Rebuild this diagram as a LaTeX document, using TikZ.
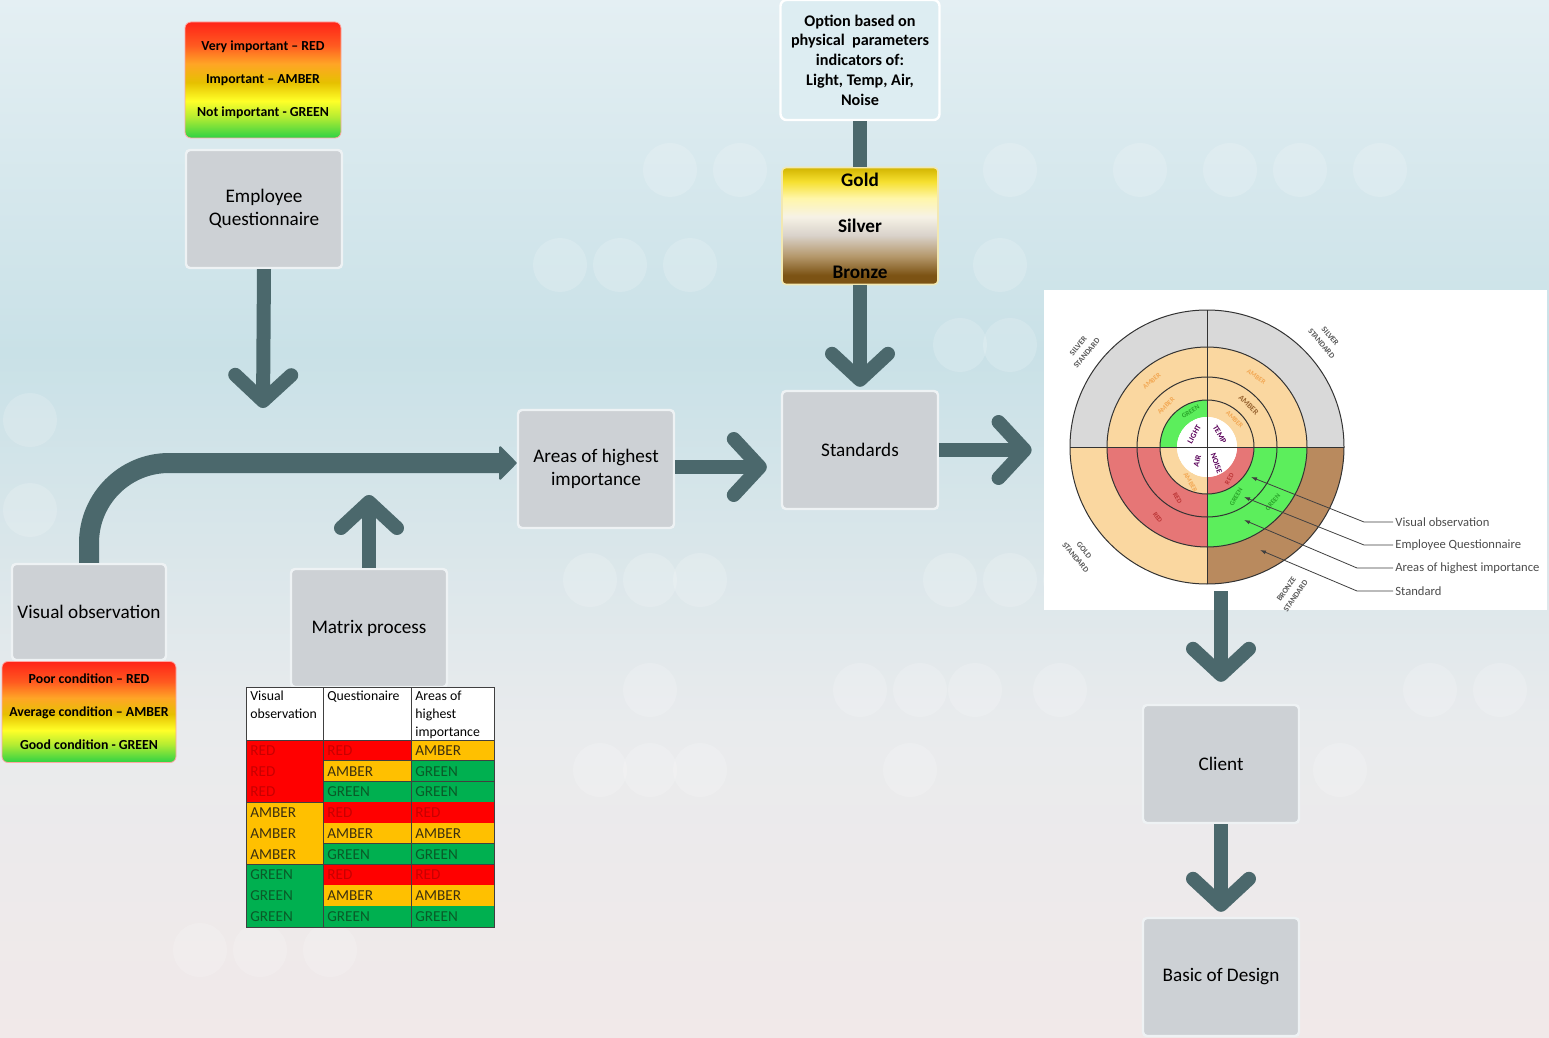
\documentclass[tikz,border=0pt]{standalone}
\usepackage{fontspec}
\setmainfont{Carlito}
\usetikzlibrary{arrows.meta,calc}

\definecolor{arrowcol}{HTML}{4B686C}
\definecolor{boxgray}{HTML}{CDD1D5}
\definecolor{boxedge}{HTML}{EEF2F4}
\definecolor{optfill}{HTML}{DDEDF2}
\definecolor{bgtop}{HTML}{E4EFF3}
\definecolor{bgmid}{HTML}{C9E1E7}
\definecolor{bglow}{HTML}{E9EBED}
\definecolor{bgbot}{HTML}{F1E9E9}
% legend gradient
\definecolor{lgR}{HTML}{FF2418}
\definecolor{lgOR}{HTML}{FF5A20}
\definecolor{lgOr}{HTML}{FFA526}
\definecolor{lgAm}{HTML}{E6C000}
\definecolor{lgY}{HTML}{FFFF28}
\definecolor{lgYG}{HTML}{B4EC32}
\definecolor{lgG}{HTML}{2ED245}
% medal gradient
\definecolor{mdG}{HTML}{D2B400}
\definecolor{mdY}{HTML}{F6E030}
\definecolor{mdP}{HTML}{FFF6A8}
\definecolor{mdW}{HTML}{F6F2E6}
\definecolor{mdS}{HTML}{D9D2CA}
\definecolor{mdT}{HTML}{B4976A}
\definecolor{mdB}{HTML}{7C5314}
% table
\definecolor{cellRED}{HTML}{FF0000}
\definecolor{cellAMBER}{HTML}{FFC000}
\definecolor{cellGREEN}{HTML}{00B050}
\definecolor{txtRED}{HTML}{C80000}
\definecolor{txtAMBER}{HTML}{3C3010}
\definecolor{txtGREEN}{HTML}{0A5A28}
% wheel
\definecolor{whGray}{HTML}{D9D9D9}
\definecolor{whOrange}{HTML}{FAD7A0}
\definecolor{whRed}{HTML}{E67676}
\definecolor{whGreen}{HTML}{5CEE5C}
\definecolor{whBrown}{HTML}{B98A5E}

\pgfdeclareverticalshading{ryg}{100bp}{color(0bp)=(lgG); color(25bp)=(lgG); color(34bp)=(lgYG); color(41bp)=(lgY); color(49bp)=(lgAm); color(57bp)=(lgOr); color(65bp)=(lgOR); color(75bp)=(lgR); color(100bp)=(lgR)}
\pgfdeclareverticalshading{medal}{100bp}{color(0bp)=(mdB); color(29bp)=(mdB); color(37bp)=(mdT); color(46bp)=(mdS); color(54bp)=(mdW); color(62bp)=(mdP); color(69bp)=(mdY); color(75bp)=(mdG); color(100bp)=(mdG)}
\pgfdeclareverticalshading{bgshade}{100bp}{color(0bp)=(bgbot); color(25bp)=(bgbot); color(40bp)=(bglow); color(58bp)=(bgmid); color(75bp)=(bgtop); color(100bp)=(bgtop)}

\newcommand\ringseg[5]{\fill[#1] (#4:#3) arc[start angle=#4, end angle=#5, radius=#3] -- (#5:#2) arc[start angle=#5, end angle=#4, radius=#2] -- cycle;}

\tikzset{
  graybox/.style={fill=boxgray, draw=boxedge, line width=1.2pt, rounded corners=2pt, minimum width=78pt, minimum height=59pt, align=center, inner sep=2pt, font=\fontsize{9.6}{11.5}\selectfont},
  legend/.style={shading=ryg, draw=white!60!lgR, line width=0.4pt, rounded corners=3pt, align=center, inner sep=1pt, font=\bfseries\fontsize{6.9}{16.5}\selectfont},
  optbox/.style={fill=optfill, draw=white, line width=1.2pt, rounded corners=3pt, minimum width=79.5pt, minimum height=60pt, align=center, inner sep=1pt, font=\bfseries\fontsize{8.1}{9.85}\selectfont},
  medalbox/.style={shading=medal, draw=white!70!mdG, line width=0.8pt, rounded corners=2pt, minimum width=78pt, minimum height=58.5pt, align=center, inner sep=1pt, font=\bfseries\fontsize{9.6}{23}\selectfont},
  chevron/.style={draw=arrowcol, line width=7pt, -{Straight Barb[length=13pt,width=28pt,line width=7pt,round]}},
  bigarrow/.style={draw=arrowcol, line width=10pt, -{Triangle[length=9pt,width=18pt,line width=1pt,round]}},
  tabhead/.style={anchor=north west, inner sep=1pt, align=left, font=\fontsize{6.9}{9}\selectfont},
  tabcell/.style={anchor=west, inner sep=1pt, font=\fontsize{7.6}{8}\selectfont},
  tabline/.style={draw=black!75, line width=0.5pt},
  wheelline/.style={draw=black!80, line width=0.5pt},
  wlbl/.style={inner sep=0pt, align=center, font=\bfseries\fontsize{4}{5.6}\selectfont},
  faint/.style={wlbl, opacity=0.55, font=\bfseries\fontsize{3.4}{4}\selectfont},
  leadline/.style={draw=black!75, line width=0.4pt, {Latex[length=3pt,width=2pt]}-},
  leadlbl/.style={anchor=west, inner sep=1pt, text=black!70, font=\fontsize{6.3}{7}\selectfont}
}

\begin{document}
\begin{tikzpicture}[x=0.5pt,y=-0.5pt]
  \useasboundingbox (0,0) rectangle (1549,1038);
  \fill[shading=bgshade] (0,0) rectangle (1549,1038);
  \foreach \bx/\by in {670/170,740/170,1010/170,1140/170,1230/170,1300/170,1380/170,560/265,620/265,690/265,1000/265,960/345,1010/345,590/580,650/580,700/580,950/580,1010/580,1070/580,650/690,860/690,920/690,975/690,1060/690,600/770,650/770,700/770,910/770,200/950,260/950,330/950,1340/770,1430/690,1500/690,30/420,30/510}
    \fill[white,opacity=0.17] (\bx,\by) circle[radius=27];

  \node[legend, minimum width=78pt, minimum height=58pt] (legq) at (263,80) {Very important -- RED\\Important -- AMBER\\Not important - GREEN};
  \node[graybox] (eq) at (264,209) {Employee\\Questionnaire};
  \node[graybox] (areas) at (596,469) {Areas of highest\\importance};
  \node[graybox, minimum width=77pt, minimum height=48pt] (vis) at (89,612) {Visual observation};
  \node[legend, minimum width=87pt, minimum height=50.5pt] (legv) at (89,712) {Poor condition -- RED\\Average condition -- AMBER\\Good condition - GREEN};
  \node[graybox] (matrix) at (369,628) {Matrix process};
  \node[optbox] (opt) at (860,60) {Option based on\\physical~ parameters\\indicators of:\\Light, Temp, Air,\\Noise};
  \node[medalbox] (medal) at (860,226) {Gold\\Silver\\Bronze};
  \node[graybox] (std) at (860,450) {Standards};
  \node[fill=white, minimum width=251.5pt, minimum height=160pt, inner sep=0pt] (panel) at (1295.5,450) {};
  \node[graybox] (client) at (1221,764) {Client};
  \node[graybox] (basic) at (1221,977) {Basic of Design};

  \fill[white] (246,687) rectangle (494,740);
  \node[tabhead] (h1) at (248,689) {Visual\\observation};
  \node[tabhead] (h2) at (325,689) {Questionaire};
  \node[tabhead] (h3) at (413,689) {Areas of\\highest\\importance};
  \foreach \a/\b/\c [count=\i] in {RED/RED/AMBER, RED/AMBER/GREEN, RED/GREEN/GREEN, AMBER/RED/RED, AMBER/AMBER/AMBER, AMBER/GREEN/GREEN, GREEN/RED/RED, GREEN/AMBER/AMBER, GREEN/GREEN/GREEN}{
    \pgfmathsetmacro{\ytop}{740+(\i-1)*20.78}
    \pgfmathsetmacro{\ybot}{740+\i*20.78}
    \pgfmathsetmacro{\ymid}{740+(\i-0.5)*20.78}
    \fill[fill=cell\a] (246,\ytop) rectangle (323,\ybot);
    \fill[fill=cell\b] (323,\ytop) rectangle (411,\ybot);
    \fill[fill=cell\c] (411,\ytop) rectangle (494,\ybot);
    \node[tabcell, text=txt\a] (ca\i) at (248,\ymid) {\a};
    \node[tabcell, text=txt\b] (cb\i) at (325,\ymid) {\b};
    \node[tabcell, text=txt\c] (cc\i) at (413,\ymid) {\c};
    \draw[tabline] (323,\ybot) -- (494,\ybot);
  }
  \draw[tabline] (246,802.3) -- (323,802.3) (246,864.7) -- (323,864.7);
  \draw[tabline] (246,740) -- (494,740) (323,687) -- (323,927) (411,687) -- (411,927);
  \draw[tabline] (246,687) rectangle (494,927);

  \begin{scope}[shift={(1207,447)}, y=0.5pt]
    \ringseg{whGray}{100}{137}{0}{180}
    \ringseg{whOrange}{100}{137}{180}{270}
    \ringseg{whBrown}{100}{137}{270}{360}
    \ringseg{whOrange}{30}{100}{0}{90}
    \ringseg{whOrange}{47}{100}{90}{180}
    \ringseg{whGreen}{30}{47}{90}{180}
    \ringseg{whRed}{47}{100}{180}{270}
    \ringseg{whOrange}{30}{47}{180}{270}
    \ringseg{whGreen}{47}{100}{270}{360}
    \ringseg{whRed}{30}{47}{270}{360}
    \fill[white] (0,0) circle[radius=30];
    \foreach \r in {137,100,70,47} \draw[wheelline] (0,0) circle[radius=\r];
    \draw[wheelline] (-137,0) -- (137,0) (0,-137) -- (0,137);
    \node[wlbl, rotate=50, text=black!65] (s2) at (142:158) {SILVER\\STANDARD};
    \node[wlbl, rotate=-50, text=black!65] (s1) at (42:160) {SILVER\\STANDARD};
    \node[wlbl, rotate=-50, text=black!65] (s3) at (220:166) {GOLD\\STANDARD};
    \node[wlbl, rotate=55, text=black!65] (s4) at (300:168) {BRONZE\\STANDARD};
    \node[wlbl, rotate=60, text=violet!70!black] (light) at (135:18) {LIGHT};
    \node[wlbl, rotate=-60, text=violet!70!black] (temp) at (45:18) {TEMP};
    \node[wlbl, rotate=75, text=violet!70!black] (air) at (235:17) {AIR};
    \node[wlbl, rotate=-70, text=violet!70!black] (noise) at (300:19) {NOISE};
    \node[wlbl, rotate=-45, text=brown!80!black] (a1) at (45:59) {AMBER};
    \node[faint, rotate=-35, text=orange!70!brown] (a2) at (55:86) {AMBER};
    \node[faint, rotate=-45, text=orange!70!brown] (a3) at (45:39) {AMBER};
    \node[faint, rotate=40, text=orange!70!brown] (a4) at (130:86) {AMBER};
    \node[faint, rotate=45, text=orange!70!brown] (a5) at (135:58) {AMBER};
    \node[faint, rotate=30, text=green!40!black] (g1) at (115:39) {GREEN};
    \node[faint, rotate=-55, text=red!60!black] (r1) at (235:86) {RED};
    \node[faint, rotate=-60, text=red!60!black] (r2) at (240:59) {RED};
    \node[faint, rotate=-60, text=orange!70!brown] (a6) at (245:39) {AMBER};
    \node[faint, rotate=60, text=red!60!black] (r3) at (305:39) {RED};
    \node[faint, rotate=60, text=green!40!black] (g2) at (300:58) {GREEN};
    \node[faint, rotate=50, text=green!40!black] (g3) at (320:86) {GREEN};
  \end{scope}

  \node[leadlbl] (lv) at (1393,522) {Visual observation};
  \node[leadlbl] (le) at (1393,545) {Employee Questionnaire};
  \node[leadlbl] (la) at (1393,568) {Areas of highest importance};
  \node[leadlbl] (ls) at (1393,591) {Standard};
  \coordinate (pv) at (1251,477);
  \coordinate (pe) at (1244,497);
  \coordinate (pa) at (1244,520);
  \coordinate (ps) at (1260,550);
  \draw[leadline] (pv) -- (1364,522) -- (lv.west);
  \draw[leadline] (pe) -- (1364,545) -- (le.west);
  \draw[leadline] (pa) -- (1357,568) -- (la.west);
  \draw[leadline] (ps) -- (1357,591) -- (ls.west);

  \coordinate (eqend) at (263,408);
  \coordinate (mxend) at (369,495);
  \coordinate (p1) at ($(client.north |- panel.south)+(0,-19)$);
  \draw[chevron] (eq.south) -- (eqend);
  \draw[chevron] (matrix.north) -- (mxend);
  \draw[bigarrow, rounded corners=40pt] (vis.north) |- ([yshift=3pt]areas.west);
  \draw[chevron, shorten >=7pt] ([yshift=1pt]areas.east) -- ([yshift=1pt]areas.east -| std.west);
  \draw[arrowcol, line width=7pt] (opt.south) -- (medal.north);
  \draw[chevron, shorten >=1.5pt] (medal.south) -- (std.north);
  \draw[chevron, shorten >=6pt] (std.east) -- (std.east -| panel.west);
  \draw[chevron, shorten >=11pt] (p1) -- (client.north);
  \draw[chevron, shorten >=2.5pt] (client.south) -- (basic.north);
\end{tikzpicture}
\end{document}
